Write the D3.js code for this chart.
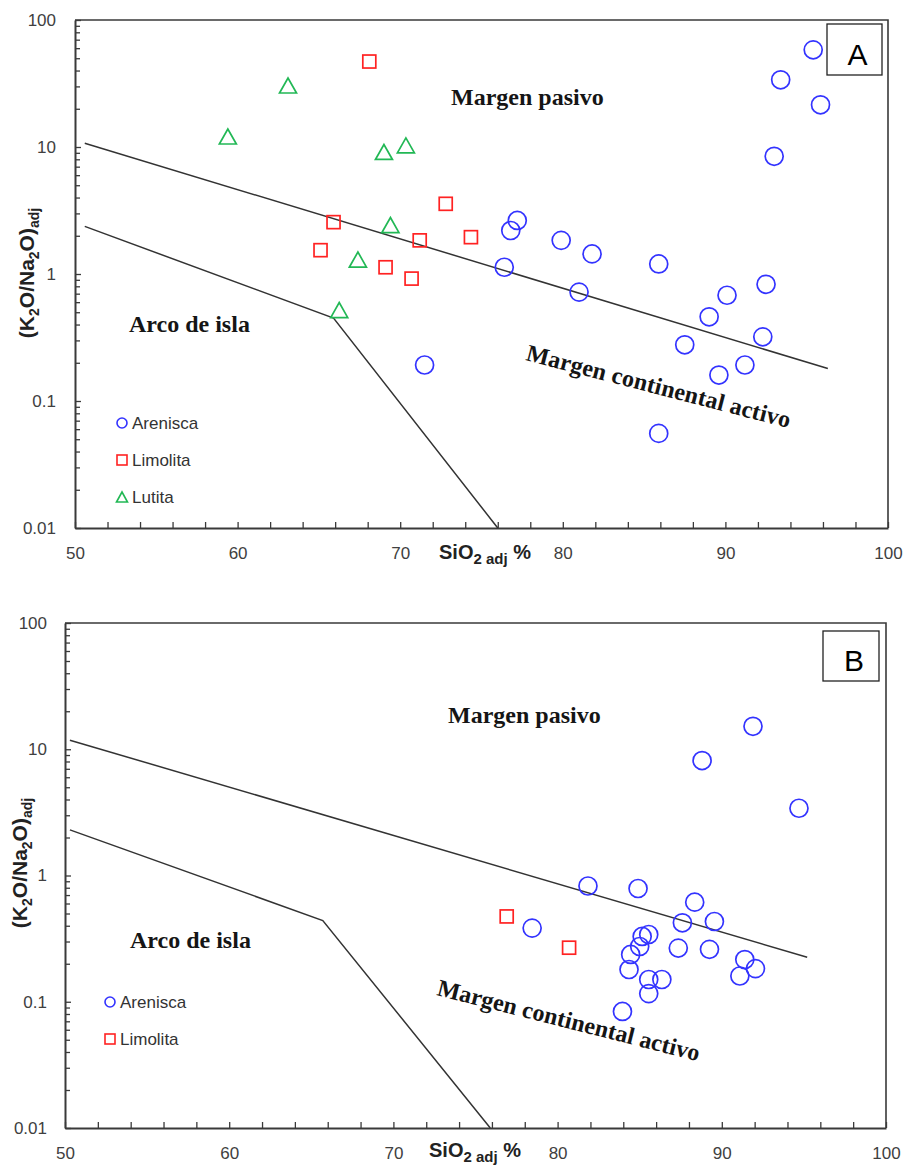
<!DOCTYPE html>
<html>
<head>
<meta charset="utf-8">
<script src="https://cdn.jsdelivr.net/npm/d3@7"></script>
<style>
  body { margin: 0; background: #fff; }
  svg { display: block; }
</style>
</head>
<body>
<div id="chart"></div>
<script>
'use strict';

// Data: [SiO2 adj %, (K2O/Na2O) adj]

// Panel A
var arenisca_A = [
  [95.4, 58.2], [93.4, 33.8], [95.85, 21.5], [93.0, 8.45],
  [77.2, 2.64], [76.8, 2.2], [79.9, 1.84], [81.8, 1.44],
  [76.4, 1.13], [85.9, 1.2], [81.0, 0.72], [92.5, 0.83],
  [90.1, 0.68], [89.0, 0.46], [92.3, 0.32], [87.5, 0.277],
  [91.2, 0.192], [89.6, 0.16], [71.5, 0.192], [85.9, 0.0556]
];
var limolita_A = [
  [68.1, 47.1], [65.9, 2.56], [72.8, 3.57], [65.1, 1.54],
  [69.1, 1.13], [71.2, 1.84], [70.7, 0.92], [74.35, 1.95]
];
var lutita_A = [
  [63.1, 30.5], [59.4, 12.1], [69.0, 9.14], [70.35, 10.3],
  [69.4, 2.43], [67.4, 1.30], [66.25, 0.52]
];

// Panel B
var arenisca_B = [
  [91.9, 15.2], [88.8, 8.14], [94.7, 3.41], [81.85, 0.826],
  [84.9, 0.789], [88.35, 0.615], [89.55, 0.432], [87.6, 0.422],
  [78.45, 0.383], [85.55, 0.341], [85.15, 0.329], [85.0, 0.274],
  [87.35, 0.266], [89.25, 0.26], [84.45, 0.237], [91.4, 0.216],
  [84.35, 0.18], [92.05, 0.183], [91.1, 0.16], [85.55, 0.150],
  [86.35, 0.150], [85.55, 0.116], [83.95, 0.0838]
];
var limolita_B = [
  [76.9, 0.474], [80.7, 0.268]
];

// Field boundaries
var upperLine_A = [[50.6, 10.7], [96.3, 0.18]];
var lowerLine_A = [[50.6, 2.37], [65.9, 0.45], [76.0, 0.01]];
var upperLine_B = [[50.3, 11.8], [95.2, 0.225]];
var lowerLine_B = [[50.3, 2.3], [65.7, 0.44], [75.9, 0.01]];

// Ticks
var xMajor = [50, 60, 70, 80, 90, 100];
var yMajor = [0.01, 0.1, 1, 10, 100];
var yLabels = ['0.01', '0.1', '1', '10', '100'];

var BLUE = '#3333ff', RED = '#ff2222', GREEN = '#22b855';

var svg = d3.select('#chart').append('svg')
  .attr('width', 903)
  .attr('height', 1166);

function trianglePath(cx, cy, w, h) {
  return 'M' + (cx - w / 2) + ',' + (cy + h / 2) +
         'L' + cx + ',' + (cy - h / 2) +
         'L' + (cx + w / 2) + ',' + (cy + h / 2) + 'Z';
}

function drawPanel(p) {
  var x = d3.scaleLinear().domain([50, 100]).range([p.left, p.right]);
  var y = d3.scaleLog().domain([0.01, 100]).range([p.bottom, p.top]);
  var g = svg.append('g');

  // plot frame (top + right)
  g.append('path')
    .attr('d', 'M' + p.left + ',' + p.top + 'H' + p.right + 'V' + p.bottom)
    .attr('fill', 'none').attr('stroke', '#3a3a3a').attr('stroke-width', 1.6);

  // minor y ticks
  var yMinor = [];
  [0.01, 0.1, 1, 10].forEach(function (d) {
    for (var i = 2; i <= 9; i++) yMinor.push(d * i);
  });
  g.append('g')
    .attr('transform', 'translate(' + p.left + ',0)')
    .call(d3.axisLeft(y).tickValues(yMinor).tickFormat('').tickSizeInner(-5).tickSizeOuter(0))
    .call(function (a) { a.select('.domain').remove(); a.selectAll('line').attr('stroke', '#3a3a3a').attr('stroke-width', 1.3); });

  // major y ticks + labels
  var yAx = g.append('g')
    .attr('transform', 'translate(' + p.left + ',0)')
    .call(d3.axisLeft(y).tickValues(yMajor)
      .tickFormat(function (d, i) { return yLabels[i]; })
      .tickSizeInner(-6).tickSizeOuter(0).tickPadding(p.yPad));
  yAx.select('.domain').attr('stroke', '#3a3a3a').attr('stroke-width', 2);
  yAx.selectAll('line').attr('stroke', '#3a3a3a').attr('stroke-width', 1.3);
  yAx.selectAll('text')
    .attr('font-family', 'Liberation Sans, Arial, sans-serif')
    .attr('font-size', 17).attr('fill', '#404040');

  // x axis
  var xAx = g.append('g')
    .attr('transform', 'translate(0,' + p.bottom + ')')
    .call(d3.axisBottom(x).tickValues(d3.range(50, 101, 2))
      .tickFormat(function (d) { return xMajor.indexOf(d) >= 0 ? d : ''; })
      .tickSizeInner(-6).tickSizeOuter(0).tickPadding(19));
  xAx.select('.domain').attr('stroke', '#3a3a3a').attr('stroke-width', 2);
  xAx.selectAll('line').attr('stroke', '#3a3a3a').attr('stroke-width', 1.3);
  xAx.selectAll('text')
    .attr('font-family', 'Liberation Sans, Arial, sans-serif')
    .attr('font-size', 17).attr('fill', '#404040');

  // boundary lines
  var line = d3.line().x(function (d) { return x(d[0]); }).y(function (d) { return y(d[1]); });
  [p.upper, p.lower].forEach(function (l) {
    g.append('path').attr('d', line(l))
      .attr('fill', 'none').attr('stroke', '#333').attr('stroke-width', 1.5);
  });

  // field labels
  var serif = 'Liberation Serif, Times New Roman, serif';
  g.append('text').attr('x', p.pasivo[0]).attr('y', p.pasivo[1])
    .attr('font-family', serif).attr('font-weight', 'bold').attr('font-size', 24)
    .attr('fill', '#151515').text('Margen pasivo');
  g.append('text').attr('x', p.arco[0]).attr('y', p.arco[1])
    .attr('font-family', serif).attr('font-weight', 'bold').attr('font-size', 24)
    .attr('fill', '#151515').text('Arco de isla');
  g.append('text')
    .attr('transform', 'translate(' + p.activo[0] + ',' + p.activo[1] + ') rotate(' + p.activo[2] + ')')
    .attr('font-family', serif).attr('font-weight', 'bold').attr('font-size', 24)
    .attr('textLength', p.activo[3]).attr('lengthAdjust', 'spacing')
    .attr('fill', '#151515').text('Margen continental activo');

  // data points
  g.selectAll('circle.are').data(p.arenisca).enter().append('circle')
    .attr('class', 'are')
    .attr('cx', function (d) { return x(d[0]); })
    .attr('cy', function (d) { return y(d[1]); })
    .attr('r', 9)
    .attr('fill', 'none').attr('stroke', BLUE).attr('stroke-width', 1.7);
  g.selectAll('rect.lim').data(p.limolita).enter().append('rect')
    .attr('class', 'lim')
    .attr('x', function (d) { return x(d[0]) - 6.5; })
    .attr('y', function (d) { return y(d[1]) - 6.5; })
    .attr('width', 13).attr('height', 13)
    .attr('fill', 'none').attr('stroke', RED).attr('stroke-width', 1.7);
  if (p.lutita) {
    g.selectAll('path.lut').data(p.lutita).enter().append('path')
      .attr('class', 'lut')
      .attr('d', function (d) { return trianglePath(x(d[0]), y(d[1]), 17, 15); })
      .attr('fill', 'none').attr('stroke', GREEN).attr('stroke-width', 1.7);
  }

  // legend
  var sans = 'Liberation Sans, Arial, sans-serif';
  var lg = p.legend;
  var items = [{ t: 'Arenisca', s: 'c' }, { t: 'Limolita', s: 'r' }];
  if (p.lutita) items.push({ t: 'Lutita', s: 't' });
  items.forEach(function (it, i) {
    var cy = lg.y + i * lg.step;
    if (it.s === 'c') {
      g.append('circle').attr('cx', lg.x).attr('cy', cy).attr('r', 5)
        .attr('fill', 'none').attr('stroke', BLUE).attr('stroke-width', 1.6);
    } else if (it.s === 'r') {
      g.append('rect').attr('x', lg.x - 5).attr('y', cy - 5).attr('width', 10).attr('height', 10)
        .attr('fill', 'none').attr('stroke', RED).attr('stroke-width', 1.6);
    } else {
      g.append('path').attr('d', trianglePath(lg.x, cy, 11, 10))
        .attr('fill', 'none').attr('stroke', GREEN).attr('stroke-width', 1.6);
    }
    g.append('text').attr('x', lg.x + 10).attr('y', cy + 6)
      .attr('font-family', sans).attr('font-size', 17).attr('fill', '#333')
      .text(it.t);
  });

  // x axis title
  var xt = g.append('text').attr('x', p.xTitle[0]).attr('y', p.xTitle[1])
    .attr('font-family', sans).attr('font-weight', 'bold').attr('font-size', 20).attr('fill', '#222');
  xt.append('tspan').text('SiO');
  xt.append('tspan').attr('font-size', 15).attr('dy', 5).text('2 adj');
  xt.append('tspan').attr('dy', -5).text(' %');

  // y axis title
  var yt = g.append('text')
    .attr('transform', 'translate(' + p.yTitle[0] + ',' + p.yTitle[1] + ') rotate(-90)')
    .attr('text-anchor', 'middle')
    .attr('font-family', sans).attr('font-weight', 'bold').attr('font-size', 21).attr('fill', '#222');
  yt.append('tspan').text('(K');
  yt.append('tspan').attr('font-size', 14).attr('dy', 5).text('2');
  yt.append('tspan').attr('dy', -5).text('O/Na');
  yt.append('tspan').attr('font-size', 14).attr('dy', 5).text('2');
  yt.append('tspan').attr('dy', -5).text('O)');
  yt.append('tspan').attr('font-size', 14).attr('dy', 5).text('adj');

  // panel letter box
  var b = p.box;
  g.append('rect').attr('x', b[0]).attr('y', b[1]).attr('width', b[2]).attr('height', b[3])
    .attr('fill', '#fff').attr('stroke', '#222').attr('stroke-width', 1.3);
  g.append('text').attr('x', b[0] + b[2] / 2 + 3).attr('y', b[1] + b[3] - 10)
    .attr('text-anchor', 'middle')
    .attr('font-family', sans).attr('font-size', 30).attr('fill', '#000')
    .text(p.letter);
}

drawPanel({
  left: 75, right: 888, top: 20, bottom: 528, yPad: 19,
  arenisca: arenisca_A, limolita: limolita_A, lutita: lutita_A,
  upper: upperLine_A, lower: lowerLine_A,
  pasivo: [451, 105], arco: [129, 332], activo: [525, 360, 14.5, 272],
  legend: { x: 122, y: 423, step: 37 },
  xTitle: [439, 559], yTitle: [34, 273],
  box: [827, 24, 55, 51], letter: 'A'
});

drawPanel({
  left: 65, right: 886, top: 623, bottom: 1128, yPad: 18,
  arenisca: arenisca_B, limolita: limolita_B, lutita: null,
  upper: upperLine_B, lower: lowerLine_B,
  pasivo: [448, 723], arco: [130, 948], activo: [436, 995, 14.2, 270],
  legend: { x: 110, y: 1002, step: 37 },
  xTitle: [429, 1157], yTitle: [27, 863],
  box: [823, 631, 56, 50], letter: 'B'
});
</script>
</body>
</html>
